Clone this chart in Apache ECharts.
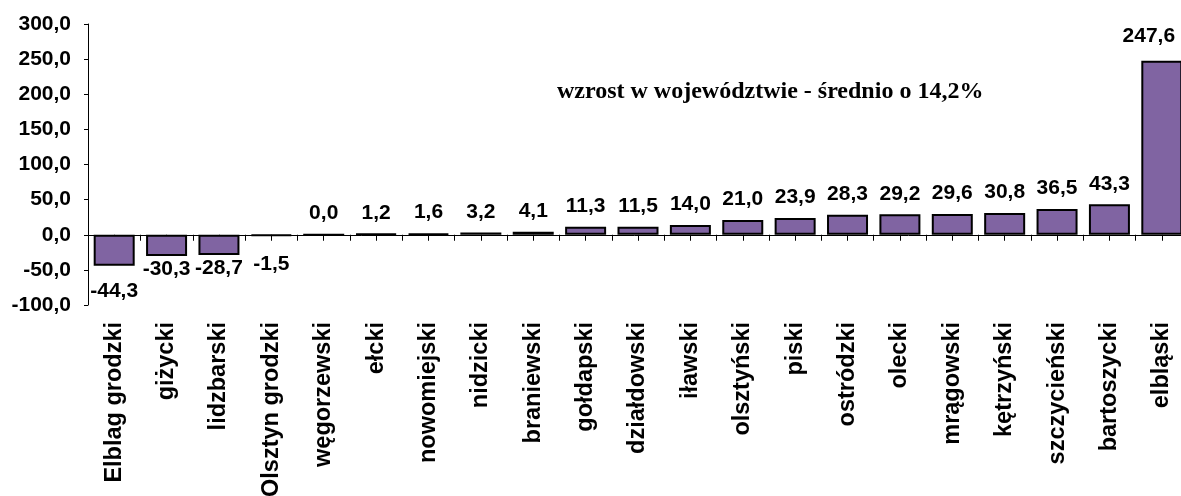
<!DOCTYPE html>
<html lang="pl">
<head>
    <meta charset="UTF-8">
    <title>wzrost</title>
    <style>
        html, body { margin: 0; padding: 0; background: #fff; }
        #chart { width: 1181px; height: 496px; }
    </style>
</head>
<body>
<div id="chart"></div>
<script src="https://cdn.jsdelivr.net/npm/echarts@6/dist/echarts.min.js"></script>
<script>
    var categories = ['Elblag grodzki', 'giżycki', 'lidzbarski', 'Olsztyn grodzki', 'węgorzewski', 'ełcki',
        'nowomiejski', 'nidzicki', 'braniewski', 'gołdapski', 'działdowski', 'iławski', 'olsztyński',
        'piski', 'ostródzki', 'olecki', 'mrągowski', 'kętrzyński', 'szczycieński', 'bartoszycki', 'elbląski'];
    var values = [-44.3, -30.3, -28.7, -1.5, 0.0, 1.2, 1.6, 3.2, 4.1, 11.3, 11.5, 14.0, 21.0,
        23.9, 28.3, 29.2, 29.6, 30.8, 36.5, 43.3, 247.6];
    var yTicks = {min: -100, max: 300, step: 50};
    var note = 'wzrost w województwie - średnio o 14,2%';

    var font = '"Liberation Sans", Arial, sans-serif';

    function fmt(v) {
        return Number(v).toFixed(1).replace('.', ',');
    }

    var chart = echarts.init(document.getElementById('chart'));

    // etykiety ujemnych słupków leżą pod słupkiem
    var barData = values.map(function (v, i) {
        var item = {value: v};
        if (v < 0) {
            var d = 3;
            if (i === 0) d = 15;
            if (v > -5) d = 17;
            item.label = {position: 'bottom', distance: d};
        }
        // ostatni słupek wychodzi poza obraz - etykieta przesunięta w lewo
        if (i === values.length - 1) {
            item.label = {distance: 14, offset: [-13, 0]};
        }
        return item;
    });

    chart.setOption({
        animation: false,
        grid: {left: 88, top: 24, width: 1100, height: 281, outerBoundsMode: 'none', containLabel: false},
        graphic: [{
            type: 'text',
            left: 557,
            top: 80,
            style: {
                text: note,
                font: 'bold 24px "Liberation Serif", "Times New Roman", serif',
                fill: '#000'
            }
        }],
        xAxis: [{
            type: 'category',
            data: categories,
            position: 'bottom',
            axisLine: {show: false, onZero: false},
            axisTick: {show: false},
            axisLabel: {
                interval: 0,
                rotate: 90,
                margin: 17,
                color: '#000',
                fontSize: 23.5,
                fontWeight: 'bold',
                fontFamily: font
            }
        }, {
            type: 'value',
            min: 0,
            max: categories.length,
            interval: 0.5,
            position: 'bottom',
            axisLine: {show: true, onZero: true, lineStyle: {color: '#000', width: 1}},
            axisTick: {show: true, length: 6, lineStyle: {color: '#000'}},
            axisLabel: {show: false},
            splitLine: {show: false}
        }],
        yAxis: {
            type: 'value',
            min: yTicks.min,
            max: yTicks.max,
            interval: yTicks.step,
            axisLine: {show: true, lineStyle: {color: '#000', width: 1}},
            axisTick: {show: true, length: 4, lineStyle: {color: '#000'}},
            splitLine: {show: false},
            axisLabel: {
                margin: 17,
                color: '#000',
                fontSize: 21,
                fontWeight: 'bold',
                fontFamily: font,
                formatter: fmt
            }
        },
        series: [{
            type: 'bar',
            xAxisIndex: 0,
            data: barData,
            barWidth: 41,
            itemStyle: {color: '#8064A2', borderColor: '#000', borderWidth: 2},
            label: {
                show: true,
                position: 'top',
                distance: 10,
                color: '#000',
                fontSize: 21,
                fontWeight: 'bold',
                fontFamily: font,
                formatter: function (p) { return fmt(p.value); }
            }
        }]
    });
</script>
</body>
</html>
